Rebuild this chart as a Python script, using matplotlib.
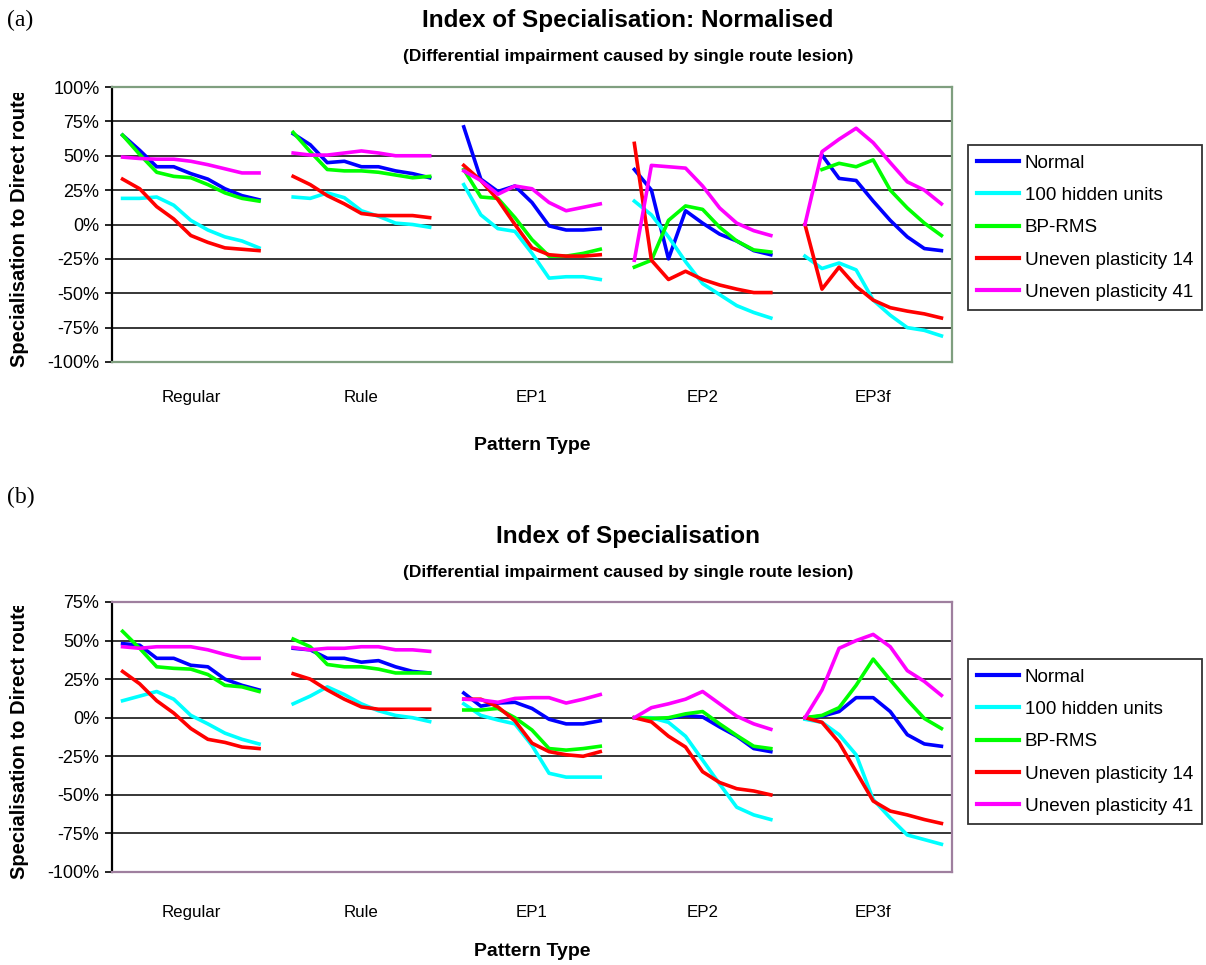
import numpy as np
import matplotlib.pyplot as plt
from matplotlib.ticker import FuncFormatter
from matplotlib.transforms import Bbox

plt.rcParams['font.family'] = ['Liberation Sans', 'DejaVu Sans']

groups = ["Regular", "Rule", "EP1", "EP2", "EP3f"]
series_names = ["Normal", "100 hidden units", "BP-RMS",
                "Uneven plasticity 14", "Uneven plasticity 41"]
colors = ["#0000ff", "#00ffff", "#00ff00", "#ff0000", "#ff00ff"]
nan = np.nan

# (a) normalised index, 9 points per pattern type
a_normal = [65, 54, 42, 42, 37, 33, 26, 21, 18,
            66, 58, 45, 46, 42, 42, 39, 37, 34,
            71, 33, 24, 28, 16, -1, -4, -4, -3,
            40, 25, -25, 10, 1, -7, -12, -19, -22,
            nan, 50.5, 33.5, 32, 17, 3, -9, -17.5, -19]
a_hidden100 = [19, 19, 20, 14, 3, -4, -9, -12, -17,
               20, 19, 23, 19.5, 10, 6, 1, 0, -2,
               29, 7, -3, -5, -21, -39, -38, -38, -40,
               17, 7, -9, -27, -43, -51, -59, -64, -68,
               -23, -32, -28, -33, -55, -66, -75, -77, -81]
a_bprms = [65, 51, 38, 35, 34, 29, 23, 19, 17,
           67, 53, 40, 39, 39, 38, 36, 34, 35,
           40, 20, 19, 5, -11, -23, -23, -21, -18,
           -31, -26, 3, 13.5, 11, -2, -12, -18.5, -20,
           nan, 40, 44.5, 42, 47, 25, 12, 1, -8]
a_uneven14 = [33, 26, 13, 4, -8, -13, -17, -18, -19,
              35, 29, 21, 15, 8, 6.5, 6.5, 6.5, 5,
              43, 32, 18, 0, -17, -22, -23, -23, -22,
              59, -26, -40, -34, -40, -44, -47, -49.5, -49.5,
              0, -47, -31, -45, -55, -60.5, -63, -65, -68]
a_uneven41 = [49, 48, 47.5, 47.5, 46, 43.5, 40.5, 37.5, 37.5,
              52, 50.5, 50.5, 52, 53.5, 52, 50, 50, 50,
              39, 32, 22, 28, 26, 16, 10, 12.5, 15,
              -26, 43, 42, 41, 28, 12, 1, -4.5, -8,
              0, 53, 62, 70, 59.5, 45, 31, 25, 15]

# (b) raw index
b_normal = [48, 47, 38.5, 38.5, 34, 33, 25, 21, 18,
            45, 44, 38.5, 38.5, 36, 37, 33, 30, 29,
            16, 7.5, 9.5, 10, 6, -1, -4, -4, -2,
            0, -0.5, -0.5, 1.5, 0.5, -6, -12, -20, -22,
            0, 1, 4, 13, 13, 4, -11, -17, -18.5]
b_hidden100 = [11, 14, 17, 12, 1.5, -4, -10, -14, -17,
               9, 14, 20, 15, 9, 4.5, 1.5, 0, -2.5,
               9, 1.5, -1.5, -4, -18, -36, -38.5, -38.5, -38.5,
               0, 0, -3, -12, -27.5, -43, -58, -63, -66,
               -1, -3, -11, -24, -53, -65, -76, -79, -82]
b_bprms = [56, 45, 33, 32, 31.5, 28, 21, 20, 17,
           51, 46, 34.5, 33, 33, 31.5, 29, 29, 29,
           5, 5, 6, 0, -8, -20, -21, -20, -18.5,
           0, -0.5, 0, 2.5, 4, -4, -11.5, -18.5, -20,
           0, 1.5, 6.5, 21, 38, 24.5, 11.5, -0.5, -7]
b_uneven14 = [30, 22, 11, 3, -7, -14, -16, -19, -20,
              28.5, 25, 18, 12, 7, 5.5, 5.5, 5.5, 5.5,
              12, 12, 7, -2, -16.5, -22, -24, -25, -22,
              0, -2.7, -12, -19, -35, -42, -46, -47.5, -50,
              0, -3, -16, -35, -54, -60.5, -63, -66, -68.5]
b_uneven41 = [46, 45, 46, 46, 46, 44, 41, 38.5, 38.5,
              45.5, 44, 45, 45, 46, 46, 44, 44, 43,
              12, 11.5, 10, 12.5, 13, 13, 9.5, 12, 15,
              0, 6.5, 9, 12, 17, 9, 1, -4, -7.5,
              0, 18, 45, 50, 54, 46, 30.5, 23.5, 14.5]

W, H = 1206, 965
PTS = 9


def with_gaps(vals):
    # one empty category between pattern types
    out = []
    for g in range(len(groups)):
        out.extend(vals[g * PTS:(g + 1) * PTS])
        if g < len(groups) - 1:
            out.append(nan)
    return np.array(out, dtype=float)


def draw_panel(ax, data, ylo, yhi, frame_color, label_pad):
    x = np.arange(len(groups) * (PTS + 1) - 1)
    for vals, c, name in zip(data, colors, series_names):
        ax.plot(x, with_gaps(vals), color=c, lw=2.6, label=name)
    ax.set_xlim(-0.62, x[-1] + 0.62)
    ax.set_ylim(ylo, yhi)
    ticks = np.arange(ylo, yhi + 1, 25)
    ax.set_yticks(ticks)
    ax.yaxis.set_major_formatter(FuncFormatter(lambda v, p: f"{v:.0f}%"))
    for t in ticks[1:-1]:
        ax.axhline(t, color='black', lw=1.1, zorder=0.5)
    ax.set_xticks([g * (PTS + 1) + (PTS - 1) / 2 for g in range(len(groups))])
    ax.set_xticklabels(groups)
    ax.tick_params(axis='x', length=0, pad=label_pad, labelsize=12.2)
    ax.tick_params(axis='y', direction='out', length=5, width=1.2,
                   pad=4, labelsize=13)
    for side in ['top', 'right', 'bottom']:
        ax.spines[side].set_color(frame_color)
        ax.spines[side].set_linewidth(1.6)
    ax.spines['left'].set_color('black')
    ax.spines['left'].set_linewidth(1.6)


fig = plt.figure(figsize=(W / 100, H / 100), dpi=100)

ax_a = fig.add_axes([112 / W, 1 - 362 / H, 840 / W, 275 / H])
draw_panel(ax_a, [a_normal, a_hidden100, a_bprms, a_uneven14, a_uneven41],
           -100, 100, '#7f9f7f', 20)

ax_b = fig.add_axes([112 / W, 1 - 872 / H, 840 / W, 270 / H])
draw_panel(ax_b, [b_normal, b_hidden100, b_bprms, b_uneven14, b_uneven41],
           -100, 75, '#9f7f9f', 23.5)

# titles
cx = 628 / W
fig.text(cx, 1 - 21 / H, "Index of Specialisation: Normalised", ha='center',
         va='center', fontsize=17.5, fontweight='bold')
fig.text(cx, 1 - 56 / H, "(Differential impairment caused by single route lesion)",
         ha='center', va='center', fontsize=12.5, fontweight='bold')
fig.text(cx, 1 - 536 / H, "Index of Specialisation", ha='center',
         va='center', fontsize=17.5, fontweight='bold')
fig.text(cx, 1 - 572 / H, "(Differential impairment caused by single route lesion)",
         ha='center', va='center', fontsize=12.5, fontweight='bold')

fig.text(7 / W, 1 - 20 / H, "(a)", ha='left', va='center', fontsize=17,
         family=['Liberation Serif', 'DejaVu Serif'])
fig.text(7 / W, 1 - 497 / H, "(b)", ha='left', va='center', fontsize=17,
         family=['Liberation Serif', 'DejaVu Serif'])

# axis titles
ax_mid = (112 + 420) / W
fig.text(ax_mid, 1 - 445 / H, "Pattern Type", ha='center', va='center',
         fontsize=14, fontweight='bold')
fig.text(ax_mid, 1 - 951 / H, "Pattern Type", ha='center', va='center',
         fontsize=14, fontweight='bold')

# y labels, cut off at the top like the original
for yc, ytop in [(228, 93), (740, 606)]:
    t = fig.text(20 / W, 1 - yc / H, "Specialisation to Direct route",
                 rotation=90, ha='center', va='center', fontsize=14.5,
                 fontweight='bold')
    t.set_clip_box(Bbox.from_extents(0, 0, 60, H - ytop))
    t.set_clip_on(True)

# legends
for ax, top in [(ax_a, 145), (ax_b, 659)]:
    leg = ax.legend(loc='upper left', bbox_to_anchor=(968 / W, 1 - top / H),
                    bbox_transform=fig.transFigure, fontsize=13.6,
                    frameon=True, fancybox=False, edgecolor='black',
                    handlelength=2.2, handletextpad=0.3, labelspacing=0.8,
                    borderpad=0.5, borderaxespad=0)
    leg.get_frame().set_linewidth(1.3)
    for ln in leg.get_lines():
        ln.set_linewidth(3)

fig.savefig("out.png", dpi=100)
